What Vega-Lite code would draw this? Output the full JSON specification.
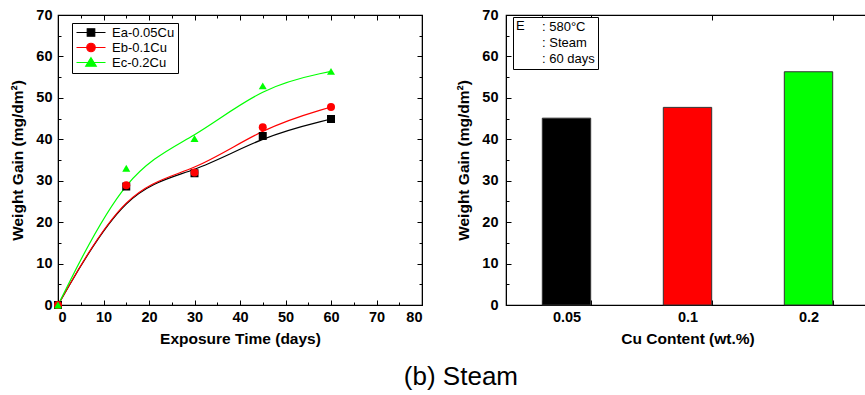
{
  "$schema": "https://vega.github.io/schema/vega-lite/v6.json",
  "padding": {"left": 10, "top": 6, "right": 0, "bottom": 5},
  "title": {"text": "(b) Steam", "orient": "bottom", "anchor": "middle", "fontSize": 26, "fontWeight": "normal", "font": "Liberation Sans", "color": "black", "offset": 16, "dx": 21},
  "config": {
    "font": "Liberation Sans",
    "view": {"stroke": "black", "strokeWidth": 1.2},
    "axis": {"domainColor": "black", "tickColor": "black", "labelColor": "black", "titleColor": "black", "labelFont": "Liberation Sans", "titleFont": "Liberation Sans", "labelFontSize": 14.5, "labelFontWeight": "bold", "titleFontSize": 15.5, "titleFontWeight": "bold", "grid": false},
    "legend": {"title": null, "orient": "none", "legendX": 14, "legendY": 8, "strokeColor": "black", "fillColor": "white", "padding": 3, "labelFont": "Liberation Sans", "labelFontSize": 13, "labelFontWeight": "normal", "labelColor": "black", "symbolSize": 100, "symbolStrokeWidth": 1.2, "symbolOpacity": 1, "labelOffset": 24, "rowPadding": 0}
  },
  "resolve": {"scale": {"color": "independent", "shape": "independent", "fill": "independent", "stroke": "independent"}},
  "spacing": 32,
  "hconcat": [
    {
      "width": 364,
      "height": 290,
      "data": {"values": [
        {"t": 0, "w": 0, "s": "Ea-0.05Cu"},
        {"t": 15, "w": 28.6, "s": "Ea-0.05Cu"},
        {"t": 30, "w": 31.8, "s": "Ea-0.05Cu"},
        {"t": 45, "w": 40.8, "s": "Ea-0.05Cu"},
        {"t": 60, "w": 44.9, "s": "Ea-0.05Cu"},
        {"t": 0, "w": 0, "s": "Eb-0.1Cu"},
        {"t": 15, "w": 28.9, "s": "Eb-0.1Cu"},
        {"t": 30, "w": 32.0, "s": "Eb-0.1Cu"},
        {"t": 45, "w": 42.9, "s": "Eb-0.1Cu"},
        {"t": 60, "w": 47.8, "s": "Eb-0.1Cu"},
        {"t": 0, "w": 0, "s": "Ec-0.2Cu"},
        {"t": 15, "w": 33.0, "s": "Ec-0.2Cu"},
        {"t": 30, "w": 40.2, "s": "Ec-0.2Cu"},
        {"t": 45, "w": 52.9, "s": "Ec-0.2Cu"},
        {"t": 60, "w": 56.4, "s": "Ec-0.2Cu"}
      ]},
      "resolve": {"axis": {"x": "independent", "y": "independent"}},
      "layer": [
        {
          "mark": {"type": "line", "interpolate": "basis", "strokeWidth": 1.2},
          "encoding": {
            "x": {"field": "t", "type": "quantitative", "scale": {"domain": [0, 80], "nice": false}, "axis": {"orient": "bottom", "values": [0, 10, 20, 30, 40, 50, 60, 70, 80], "title": "Exposure Time (days)", "tickSize": -5, "labelPadding": 10, "titlePadding": 8}},
            "y": {"field": "w", "type": "quantitative", "scale": {"domain": [0, 70], "nice": false}, "axis": {"orient": "left", "values": [0, 10, 20, 30, 40, 50, 60, 70], "title": "Weight Gain (mg/dm²)", "tickSize": -5, "labelPadding": 11, "titlePadding": 10}},
            "stroke": {"field": "s", "type": "nominal", "scale": {"domain": ["Ea-0.05Cu", "Eb-0.1Cu", "Ec-0.2Cu"], "range": ["#000000", "#ff0000", "#00ff00"]}}
          }
        },
        {
          "mark": {"type": "point", "filled": true, "opacity": 0},
          "encoding": {
            "x": {"field": "t", "type": "quantitative", "scale": {"domain": [0, 80], "nice": false}, "axis": {"orient": "top", "values": [0, 10, 20, 30, 40, 50, 60, 70, 80], "title": null, "labels": false, "tickSize": -5}},
            "y": {"field": "w", "type": "quantitative", "scale": {"domain": [0, 70], "nice": false}, "axis": {"orient": "right", "values": [0, 10, 20, 30, 40, 50, 60, 70], "title": null, "labels": false, "tickSize": -5}},
            "fill": {"field": "s", "type": "nominal", "scale": {"domain": ["Ea-0.05Cu", "Eb-0.1Cu", "Ec-0.2Cu"], "range": ["#000000", "#ff0000", "#00ff00"]}},
            "stroke": {"field": "s", "type": "nominal", "scale": {"domain": ["Ea-0.05Cu", "Eb-0.1Cu", "Ec-0.2Cu"], "range": ["#000000", "#ff0000", "#00ff00"]}},
            "shape": {"field": "s", "type": "nominal", "scale": {"domain": ["Ea-0.05Cu", "Eb-0.1Cu", "Ec-0.2Cu"], "range": ["M-1,0H4.8M1.15,-0.75H2.65V0.75H1.15Z", "M-1,0H4.8M1.05,0A0.85,0.85 0 1,0 2.75,0A0.85,0.85 0 1,0 1.05,0Z", "M-1,0H4.8M1.9,-0.95L2.95,0.75L0.85,0.75Z"]}}
          }
        },
        {
          "mark": {"type": "point", "opacity": 0},
          "encoding": {
            "x": {"field": "t", "type": "quantitative", "scale": {"domain": [0, 80], "nice": false}, "axis": {"orient": "bottom", "values": [5, 15, 25, 35, 45, 55, 65, 75], "title": null, "labels": false, "domain": false, "tickSize": -3}},
            "y": {"field": "w", "type": "quantitative", "scale": {"domain": [0, 70], "nice": false}, "axis": {"orient": "left", "values": [5, 15, 25, 35, 45, 55, 65], "title": null, "labels": false, "domain": false, "tickSize": -3}}
          }
        },
        {
          "mark": {"type": "point", "opacity": 0},
          "encoding": {
            "x": {"field": "t", "type": "quantitative", "scale": {"domain": [0, 80], "nice": false}, "axis": {"orient": "top", "values": [5, 15, 25, 35, 45, 55, 65, 75], "title": null, "labels": false, "domain": false, "tickSize": -3}},
            "y": {"field": "w", "type": "quantitative", "scale": {"domain": [0, 70], "nice": false}, "axis": {"orient": "right", "values": [5, 15, 25, 35, 45, 55, 65], "title": null, "labels": false, "domain": false, "tickSize": -3}}
          }
        },
        {
          "transform": [{"filter": "datum.s == 'Ea-0.05Cu'"}],
          "mark": {"type": "point", "filled": true, "opacity": 1, "size": 64, "shape": "square"},
          "encoding": {
            "x": {"field": "t", "type": "quantitative", "scale": {"domain": [0, 80], "nice": false}, "axis": null},
            "y": {"field": "w", "type": "quantitative", "scale": {"domain": [0, 70], "nice": false}, "axis": null},
            "fill": {"field": "s", "type": "nominal", "scale": {"domain": ["Ea-0.05Cu", "Eb-0.1Cu", "Ec-0.2Cu"], "range": ["#000000", "#ff0000", "#00ff00"]}}
          }
        },
        {
          "transform": [{"filter": "datum.s == 'Eb-0.1Cu'"}],
          "mark": {"type": "point", "filled": true, "opacity": 1, "size": 64, "shape": "circle"},
          "encoding": {
            "x": {"field": "t", "type": "quantitative", "scale": {"domain": [0, 80], "nice": false}, "axis": null},
            "y": {"field": "w", "type": "quantitative", "scale": {"domain": [0, 70], "nice": false}, "axis": null},
            "fill": {"field": "s", "type": "nominal", "scale": {"domain": ["Ea-0.05Cu", "Eb-0.1Cu", "Ec-0.2Cu"], "range": ["#000000", "#ff0000", "#00ff00"]}}
          }
        },
        {
          "transform": [{"filter": "datum.s == 'Ec-0.2Cu'"}],
          "mark": {"type": "point", "filled": true, "opacity": 1, "size": 64, "shape": "triangle-up"},
          "encoding": {
            "x": {"field": "t", "type": "quantitative", "scale": {"domain": [0, 80], "nice": false}, "axis": null},
            "y": {"field": "w", "type": "quantitative", "scale": {"domain": [0, 70], "nice": false}, "axis": null},
            "fill": {"field": "s", "type": "nominal", "scale": {"domain": ["Ea-0.05Cu", "Eb-0.1Cu", "Ec-0.2Cu"], "range": ["#000000", "#ff0000", "#00ff00"]}}
          }
        }
      ]
    },
    {
      "width": 363,
      "height": 290,
      "resolve": {"axis": {"x": "independent", "y": "independent"}},
      "layer": [
        {
          "data": {"values": [
            {"cu": 0.05, "w": 45.1},
            {"cu": 0.1, "w": 47.7},
            {"cu": 0.2, "w": 56.3}
          ]},
          "mark": {"type": "bar", "stroke": "#333333", "strokeWidth": 1},
          "encoding": {
            "x": {"field": "cu", "type": "ordinal", "sort": null, "scale": {"paddingInner": 0.6, "paddingOuter": 0.3}, "axis": {"orient": "bottom", "title": "Cu Content (wt.%)", "labelAngle": 0, "tickBand": "extent", "tickSize": -5, "labelPadding": 10, "titlePadding": 8}},
            "y": {"field": "w", "type": "quantitative", "scale": {"domain": [0, 70], "nice": false}, "axis": {"orient": "left", "values": [0, 10, 20, 30, 40, 50, 60, 70], "title": "Weight Gain (mg/dm²)", "tickSize": -5, "labelPadding": 13, "titlePadding": 10}},
            "color": {"field": "cu", "type": "ordinal", "sort": null, "scale": {"range": ["#000000", "#ff0000", "#00ff00"]}, "legend": null}
          }
        },
        {
          "data": {"values": [
            {"cu": 0.05, "w": 45.1},
            {"cu": 0.1, "w": 47.7},
            {"cu": 0.2, "w": 56.3}
          ]},
          "mark": {"type": "bar", "opacity": 0},
          "encoding": {
            "x": {"field": "cu", "type": "ordinal", "sort": null, "axis": {"orient": "top", "title": null, "labels": false, "tickBand": "extent", "tickSize": -5}},
            "y": {"field": "w", "type": "quantitative", "scale": {"domain": [0, 70], "nice": false}, "axis": {"orient": "left", "values": [5, 15, 25, 35, 45, 55, 65], "title": null, "labels": false, "domain": false, "tickSize": -3}}
          }
        },
        {
          "data": {"values": [
            {"info": ": 580°C"},
            {"info": ": Steam"},
            {"info": ": 60 days"}
          ]},
          "mark": {"type": "point", "opacity": 0},
          "encoding": {
            "shape": {"field": "info", "type": "nominal", "sort": null,
              "legend": {"title": "E", "titleOrient": "left", "titleAnchor": "start", "titleBaseline": "top", "titleFontWeight": "normal", "titleFontSize": 13, "titleFont": "Liberation Sans", "titleColor": "black", "titlePadding": 4, "orient": "none", "legendX": 7, "legendY": 2, "strokeColor": "black", "fillColor": "white", "padding": 3, "labelFont": "Liberation Sans", "labelFontSize": 13, "labelColor": "black", "symbolSize": 0, "symbolOpacity": 0, "symbolStrokeWidth": 0, "labelOffset": 0, "rowPadding": 2}}
          }
        }
      ]
    }
  ]
}
